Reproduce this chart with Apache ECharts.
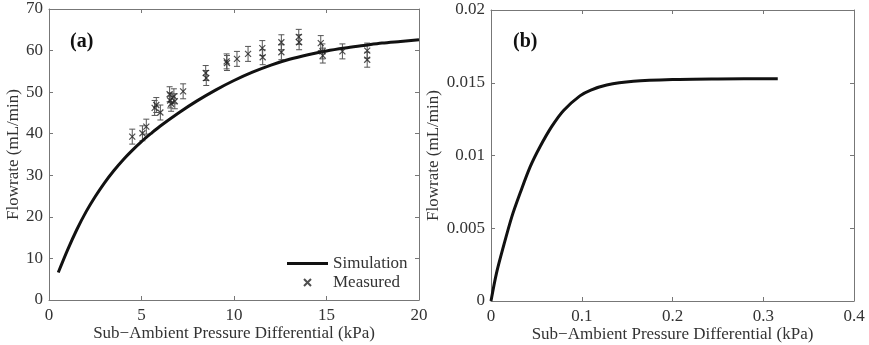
<!DOCTYPE html>
<html>
<head>
<meta charset="utf-8">
<script src="https://cdn.jsdelivr.net/npm/echarts@6/dist/echarts.min.js"></script>
<style>
  html, body { margin: 0; padding: 0; background: #fff; }
  #chart { width: 869px; height: 345px; }
</style>
</head>
<body>
<div id="chart"></div>
<script>
// (a) simulation curve
const simX = [0.5, 1, 1.5, 2, 2.5, 3, 3.5, 4, 4.5, 5, 5.5, 6, 7, 8, 9, 10, 11, 12, 13, 14, 15, 16, 17, 18, 19, 20];
const simY = [6.6, 12.0, 16.9, 21.2, 24.9, 28.2, 31.1, 33.7, 36.0, 38.1, 40.0, 41.8, 45.0, 47.9, 50.5, 52.8, 54.8, 56.5, 57.9, 59.0, 59.9, 60.6, 61.2, 61.8, 62.2, 62.6];

// (a) measured points with error bars
const measX = [4.5, 5.05, 5.26, 5.71, 5.8, 6.02, 6.52, 6.55, 6.6, 6.75, 6.8, 7.25, 8.47, 8.5, 9.6, 9.62, 10.16, 10.76, 11.53, 11.55, 12.56, 12.56, 13.5, 13.52, 14.69, 14.78, 14.8, 15.86, 17.2, 17.2];
const measY = [39.3, 40.1, 41.7, 46.2, 46.9, 45.1, 49.5, 48.0, 47.2, 49.0, 47.8, 50.2, 54.6, 53.4, 57.4, 57.0, 58.0, 59.2, 60.6, 58.4, 62.0, 59.6, 63.3, 62.0, 61.8, 59.8, 58.8, 59.8, 60.0, 57.8];
const measErr = [1.8, 1.8, 1.8, 1.8, 1.8, 1.8, 1.8, 1.8, 1.8, 1.8, 1.8, 1.8, 1.8, 1.8, 1.8, 1.8, 1.8, 1.8, 1.8, 1.8, 1.8, 1.8, 1.8, 1.8, 1.8, 1.8, 1.8, 1.8, 1.8, 1.8];

// (b) simulation curve
const bX = [0, 0.006, 0.0135, 0.023, 0.032, 0.043, 0.054, 0.067, 0.08, 0.098, 0.11, 0.1275, 0.157, 0.2, 0.25, 0.316];
const bY = [0, 0.0019, 0.0037, 0.0058, 0.0074, 0.0092, 0.0106, 0.012, 0.0131, 0.0141, 0.0145, 0.01485, 0.0151, 0.01522, 0.01526, 0.01528];

const serif = "'Liberation Serif', 'Times New Roman', serif";
const axisColor = '#777';
const textColor = '#333';
const xTitle = 'Sub\u2212Ambient Pressure Differential (kPa)';
const yTitle = 'Flowrate (mL/min)';

function mainX(gridIndex, max, interval) {
  return {
    type: 'value', gridIndex, min: 0, max, interval,
    name: xTitle, nameLocation: 'middle', nameGap: 25, nameMoveOverlap: false,
    nameTextStyle: { fontFamily: serif, fontSize: 17, color: textColor },
    axisLine: { show: true, onZero: false, lineStyle: { color: axisColor, width: 1 } },
    axisTick: { inside: true, length: 4, lineStyle: { color: axisColor } },
    axisLabel: { margin: 7, fontFamily: serif, fontSize: 17, color: textColor },
    splitLine: { show: false }
  };
}
function mainY(gridIndex, max, interval, nameGap) {
  return {
    type: 'value', gridIndex, min: 0, max, interval,
    name: yTitle, nameLocation: 'middle', nameGap, nameRotate: 90,
    nameTextStyle: { fontFamily: serif, fontSize: 17, color: textColor },
    axisLine: { show: true, onZero: false, lineStyle: { color: axisColor, width: 1 } },
    axisTick: { inside: true, length: 4, lineStyle: { color: axisColor } },
    axisLabel: { margin: 6, fontFamily: serif, fontSize: 17, color: textColor },
    splitLine: { show: false }
  };
}
function mirrorX(gridIndex, max, interval) {
  return {
    type: 'value', gridIndex, min: 0, max, interval, position: 'top',
    axisLine: { show: true, onZero: false, lineStyle: { color: axisColor, width: 1 } },
    axisTick: { inside: true, length: 4, lineStyle: { color: axisColor } },
    axisLabel: { show: false }, splitLine: { show: false }
  };
}
function mirrorY(gridIndex, max, interval) {
  return {
    type: 'value', gridIndex, min: 0, max, interval, position: 'right',
    axisLine: { show: true, onZero: false, lineStyle: { color: axisColor, width: 1 } },
    axisTick: { inside: true, length: 4, lineStyle: { color: axisColor } },
    axisLabel: { show: false }, splitLine: { show: false }
  };
}

const chart = echarts.init(document.getElementById('chart'));

chart.setOption({
  animation: false,
  backgroundColor: '#fff',
  grid: [
    { left: 49, top: 9, width: 370, height: 291, outerBoundsMode: 'none', containLabel: false },
    { left: 491, top: 10, width: 363, height: 291, outerBoundsMode: 'none', containLabel: false }
  ],
  xAxis: [mainX(0, 20, 5), mainX(1, 0.4, 0.1), mirrorX(0, 20, 5), mirrorX(1, 0.4, 0.1)],
  yAxis: [mainY(0, 70, 10, 27), mainY(1, 0.02, 0.005, 49), mirrorY(0, 70, 10), mirrorY(1, 0.02, 0.005)],
  legend: {
    orient: 'vertical', left: 287, top: 255, itemGap: 2, padding: 0,
    itemWidth: 41, itemHeight: 7,
    textStyle: { fontFamily: serif, fontSize: 17, color: textColor },
    data: [
      { name: 'Simulation', icon: 'path://M0,0H42V3H0Z' },
      { name: 'Measured' }
    ]
  },
  graphic: [
    { type: 'text', left: 70, top: 32, style: { text: '(a)', font: 'bold 20px ' + serif, fill: '#111' } },
    { type: 'text', left: 513, top: 32, style: { text: '(b)', font: 'bold 20px ' + serif, fill: '#111' } }
  ],
  series: [
    {
      name: 'Error', type: 'custom', xAxisIndex: 0, yAxisIndex: 0, z: 2,
      data: measX.map((x, i) => [x, measY[i] - measErr[i], measY[i] + measErr[i]]),
      renderItem: (params, api) => {
        const lo = api.coord([api.value(0), api.value(1)]);
        const hi = api.coord([api.value(0), api.value(2)]);
        const c = 3;
        const style = { stroke: '#555', lineWidth: 1 };
        return {
          type: 'group',
          children: [
            { type: 'line', shape: { x1: lo[0], y1: lo[1], x2: hi[0], y2: hi[1] }, style },
            { type: 'line', shape: { x1: lo[0] - c, y1: lo[1], x2: lo[0] + c, y2: lo[1] }, style },
            { type: 'line', shape: { x1: hi[0] - c, y1: hi[1], x2: hi[0] + c, y2: hi[1] }, style }
          ]
        };
      }
    },
    {
      name: 'Simulation', type: 'line', xAxisIndex: 0, yAxisIndex: 0, z: 3,
      data: simX.map((x, i) => [x, simY[i]]),
      smooth: 0.3, showSymbol: false, symbol: 'none',
      lineStyle: { color: '#111', width: 3 }, itemStyle: { color: '#111' }
    },
    {
      name: 'Measured', type: 'scatter', xAxisIndex: 0, yAxisIndex: 0, z: 4,
      data: measX.map((x, i) => [x, measY[i]]),
      symbol: 'path://M0,0L10,10M10,0L0,10', symbolSize: 6,
      itemStyle: { color: 'none', borderColor: '#222', borderWidth: 1.2 }
    },
    {
      name: 'b', type: 'line', xAxisIndex: 1, yAxisIndex: 1,
      data: bX.map((x, i) => [x, bY[i]]),
      smooth: 0.3, showSymbol: false, symbol: 'none',
      lineStyle: { color: '#111', width: 3 }
    }
  ]
});
</script>
</body>
</html>
